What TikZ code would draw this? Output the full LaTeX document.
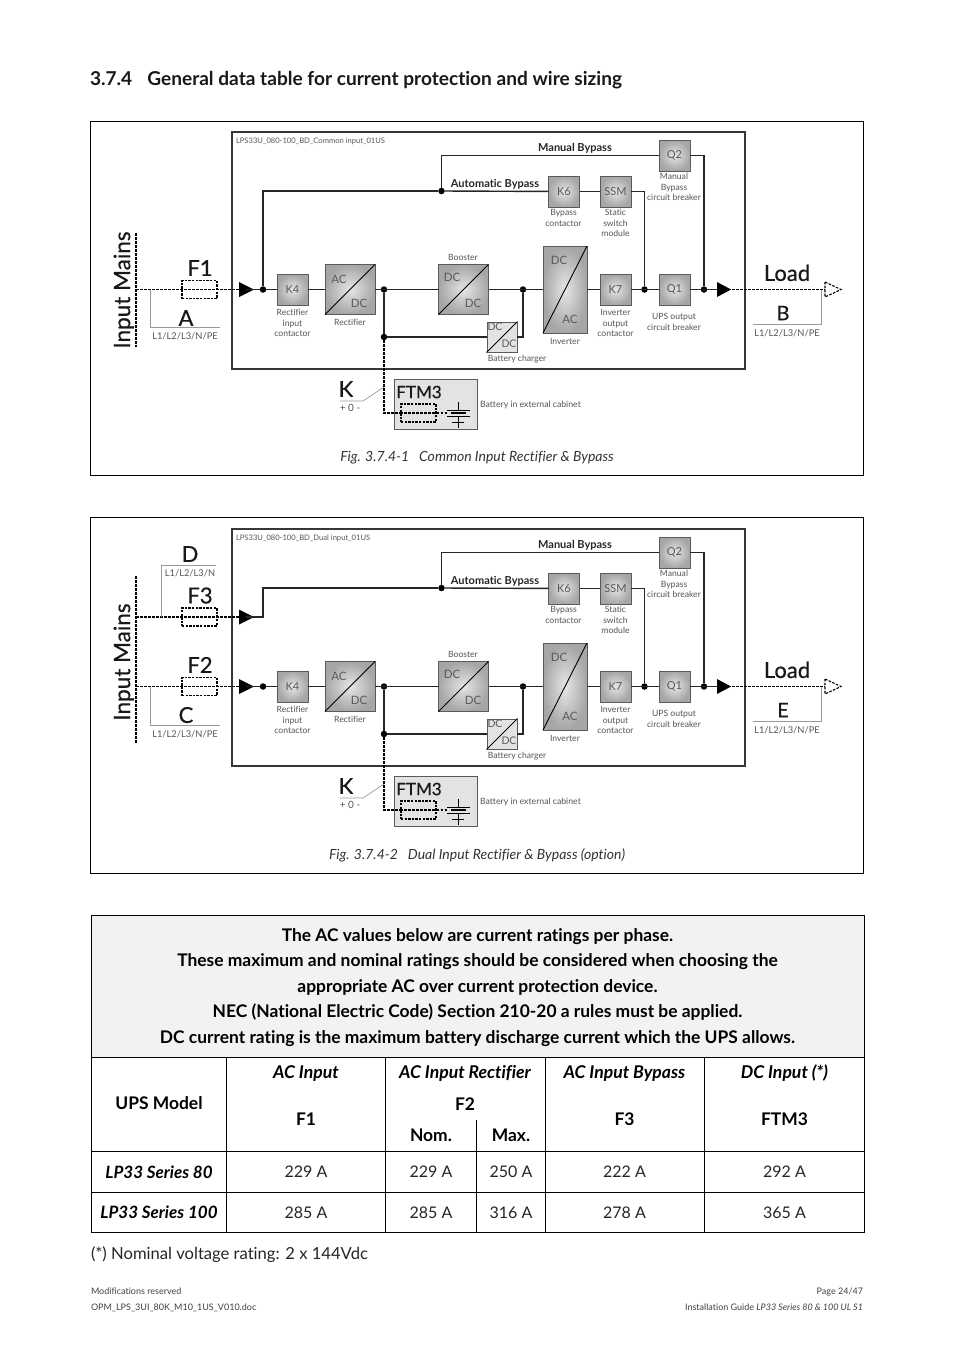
\documentclass[tikz,border=0pt]{standalone}
\usepackage{fontspec}
\setmainfont[Ligatures=NoCommon]{Lato}
\newfontfamily\medf[FakeBold=0.5,Ligatures=NoCommon]{Lato}
\usetikzlibrary{shapes.geometric}
\definecolor{labc}{HTML}{555555}
\definecolor{edgec}{HTML}{5A5A5A}
\newcommand{\fsz}[1]{\fontsize{#1}{#1}\selectfont}
\tikzset{
 txt/.style={inner sep=0,outer sep=0},
 fnt/.style={font=\fsz{#1},text height={0.72*#1},text depth=0},
 fntb/.style={font=\bfseries\fsz{#1},text height={0.72*#1},text depth=0},
 fnti/.style={font=\itshape\fsz{#1},text height={0.72*#1},text depth=0},
 fntbi/.style={font=\bfseries\itshape\fsz{#1},text height={0.72*#1},text depth=0},
 fntm/.style={font=\medf\fsz{#1},text height={0.72*#1},text depth=0},
 blk/.style={draw=edgec,line width=0.9,inner sep=0,outer sep=0,shade,inner color=gray!20,outer color=gray!70,text=black!65,font=\fsz{11}},
 sqblk/.style={blk,minimum width=31,minimum height=31},
 convblk/.style={blk,minimum width=50,minimum height=50},
 wire/.style={line width=1.4,black!85},
 dashw/.style={line width=1.8,black,dash pattern=on 2.6pt off 1.4pt},
 fusebox/.style={draw,line width=1.2,dash pattern=on 2.4pt off 1.2pt,inner sep=0,minimum width=35,minimum height=18},
 jdot/.style={circle,fill=black,inner sep=0,minimum size=6.5},
 smalltxt/.style={txt,text=labc,align=center,font=\fontsize{8.6}{10.4}\selectfont},
 lonetxt/.style={txt,text=labc,fnt=#1},
 dctxt/.style={txt,text=black!65,fnt=#1},
 leadw/.style={line width=0.7,gray!80},
 bigtxt/.style={txt,text=black!90,fntm=#1},
 celltxt/.style={txt,fnt=16,text=black!85},
 headtxt/.style={txt,fntb=17.4},
 theadtxt/.style={txt,fntbi=17.6},
 modeltxt/.style={txt,fntbi=17},
 foottxt/.style={txt,fnt=9,text=black!75},
 frameb/.style={line width=0.8,black},
 rulew/.style={line width=0.9,black},
}
% common part of both one-line diagrams
\newcommand{\upscore}[1]{%
 \draw[line width=1.5,edgec!60!black] (232,132) rectangle (745,369);
 \node[lonetxt=7.6,anchor=west] (codel) at (236,141) {#1};
 \node[sqblk] (K4) at (292.5,289.5) {K4};
 \node[convblk] (rect) at (350,289.5) {};
 \node[convblk] (boost) at (463.5,289.5) {};
 \node[blk,minimum width=44,minimum height=87] (inv) at (565,289.5) {};
 \node[sqblk] (K7) at (615.5,289.5) {K7};
 \node[sqblk] (Q1) at (674.5,289.5) {Q1};
 \node[sqblk] (Q2) at (674.5,155.5) {Q2};
 \node[sqblk] (K6) at (564,191.5) {K6};
 \node[sqblk] (SSM) at (615.5,191.5) {SSM};
 \node[draw=edgec,fill=black!11,line width=0.9,inner sep=0,minimum width=30,minimum height=30] (chg) at (502,337) {};
 \foreach \nn in {rect,boost,inv,chg}{\draw[line width=0.9,black] (\nn.south west) -- (\nn.north east);}
 \node[dctxt=11.5] (ra) at (339,279) {AC};
 \node[dctxt=11.5] (rd) at (359,303) {DC};
 \node[dctxt=11.5] (ba) at (452,277) {DC};
 \node[dctxt=11.5] (bd) at (473,303) {DC};
 \node[dctxt=11.5] (ia) at (559,260) {DC};
 \node[dctxt=11.5] (id) at (570,319) {AC};
 \node[dctxt=10.5] (ca) at (495,327) {DC};
 \node[dctxt=10.5] (cd) at (509,344) {DC};
 \node[jdot] (j1) at (263,289.5) {};
 \node[jdot] (j2) at (384,289.5) {};
 \node[jdot] (j3) at (384,337) {};
 \node[jdot] (j4) at (523,289.5) {};
 \node[jdot] (j5) at (644.5,289.5) {};
 \node[jdot] (j6) at (704,289.5) {};
 \node[jdot] (j7) at (441.5,191) {};
 \coordinate (arrowout) at (724,289.5);
 \draw[wire] (j1) -- (K4);
 \draw[wire] (K4) -- (rect);
 \draw[wire] (rect) -- (boost);
 \draw[wire] (boost) -- (inv);
 \draw[wire] (inv) -- (K7);
 \draw[wire] (K7) -- (Q1);
 \draw[wire] (Q1) -- (arrowout);
 \draw[wire] (j2) -- (j3);
 \draw[wire] (j3) -- (chg);
 \draw[wire] (chg.east) -| (j4);
 \draw[wire] (j7) |- (Q2);
 \draw[wire] (j7) -- (K6);
 \draw[wire] (K6) -- (SSM);
 \draw[wire] (SSM.east) -| (j5);
 \draw[wire] (Q2.east) -| (j6);
 \fill[black] (717,282) -- (731,289.5) -- (717,297) -- cycle;
 \node[txt,fntb=11,text=black!85] (mb) at (575,148) {Manual Bypass};
 \node[txt,fntb=11,text=black!85] (ab) at (495,184) {Automatic Bypass};
 \node[smalltxt] (l1) at (292.5,323) {Rectifier\\input\\contactor};
 \node[smalltxt] (l2) at (350,322) {Rectifier};
 \node[smalltxt] (l3) at (463,257) {Booster};
 \node[smalltxt] (l4) at (565,341) {Inverter};
 \node[smalltxt] (l5) at (517,359) {Battery charger};
 \node[smalltxt] (l6) at (615.5,323) {Inverter\\output\\contactor};
 \node[smalltxt] (l7) at (674,322) {UPS output\\circuit breaker};
 \node[smalltxt] (l8) at (563.5,218) {Bypass\\contactor};
 \node[smalltxt] (l9) at (615.5,223) {Static\\switch\\module};
 \node[smalltxt] (l10) at (674,187) {Manual\\Bypass\\circuit breaker};
 % load side
 \coordinate (loadend) at (825,289.5);
 \coordinate (tapB) at (821,289.5);
 \coordinate (tapB2) at (821,324);
 \coordinate (tapB3) at (753,324);
 \draw[dashw] (arrowout) -- (loadend);
 \draw[dashw,line width=1.1] (825,282) -- (841,289.5) -- (825,297) -- cycle;
 \draw[leadw] (tapB) -- (tapB2) -- (tapB3);
 \node[bigtxt=22] (load) at (787,273) {Load};
 \node[lonetxt=9.3] (lp) at (787,333) {L1/L2/L3/N/PE};
 % battery
 \node[draw=edgec,fill=black!11,line width=0.8,inner sep=0,minimum width=83,minimum height=50] (ftm) at (435.5,404) {};
 \node[bigtxt=17] (ftmt) at (419,392) {FTM3};
 \node[fusebox] (f3) at (418.5,413) {};
 \coordinate (kcorner) at (384,413);
 \draw[dashw] (j3) -- (kcorner) -- (f3.west);
 \draw[dashw] (f3.west) -- (f3.east);
 \draw[dashw] (f3.east) -- (447,413);
 \draw[line width=0.9] (458,402) -- (458,410) (447,410) -- (470,410) (447,416) -- (470,416) (458,416) -- (458,428) (452,422) -- (464,422);
 \draw[line width=1.6] (451,413) -- (466,413);
 \node[lonetxt=8.7,anchor=west] (bc) at (480,404) {Battery in external cabinet};
 \node[bigtxt=22] (kk) at (346,389) {K};
 \node[lonetxt=10] (zz) at (350,408) {+ 0 -};
 \coordinate (ka) at (340,401);
 \coordinate (kb) at (363,401);
 \coordinate (kc) at (384,387);
 \draw[leadw] (ka) -- (kb) -- (kc);
}
% one mains feed with its fuse, ending on the input arrow
\newcommand{\feed}[3]{%
 \node[fusebox] (#1) at (199.5,#2) {};
 \coordinate (#1s) at (136,#2);
 \coordinate (#1a) at (246,#2);
 \draw[dashw] (#1s) -- (#1a);
 \fill[black] (239,#2-7.5) -- (254,#2) -- (239,#2+7.5) -- cycle;
 \node[bigtxt=22] (#1t) at (200,#2-21.5) {#3};
}
\begin{document}
\begin{tikzpicture}[x=1pt,y=-1pt]
\useasboundingbox (0,0) rectangle (954,1350);
\fill[white] (0,0) rectangle (954,1350);
\node[txt,anchor=west,fntb=19.1,text=black!90] (title) at (90,78.5) {3.7.4\hspace{15pt}General data table for current protection and wire sizing};
% ---- figure 1
\draw[frameb] (90.5,121.5) rectangle (863.5,475.5);
\begin{scope}[name prefix=a-]
 \upscore{LPS33U\_080-100\_BD\_Common input\_01US}
 \feed{F1}{289.5}{F1}
 \draw[wire] (F1a) -- (j1);
 \draw[wire] (j1) |- (j7);
 \coordinate (ms) at (136,233);
 \coordinate (me) at (136,347);
 \draw[dashw] (ms) -- (me);
 \node[bigtxt=22.5,rotate=90] (im) at (122,290) {Input Mains};
 \node[bigtxt=22] (A) at (186,318) {A};
 \coordinate (t1) at (150,289.5);
 \coordinate (t2) at (150,327);
 \coordinate (t3) at (220,327);
 \draw[leadw] (t1) -- (t2) -- (t3);
 \node[lonetxt=9.3] (lA) at (185,336) {L1/L2/L3/N/PE};
 \node[bigtxt=20] (B) at (783,313) {B};
 \node[txt,fnti=14,text=black!80] (cap) at (477,456.5) {Fig. 3.7.4-1\hspace{10pt}Common Input Rectifier \& Bypass};
\end{scope}
% ---- figure 2
\draw[frameb] (90.5,517.5) rectangle (863.5,873.5);
\begin{scope}[shift={(0,397)},name prefix=b-]
 \upscore{LPS33U\_080-100\_BD\_Dual input\_01US}
 \feed{F2}{289.5}{F2}
 \feed{F3}{220}{F3}
 \draw[wire] (F2a) -- (j1);
 \coordinate (by) at (263,220);
 \draw[wire] (F3a) -- (by) |- (j7);
 \coordinate (ms) at (136,179);
 \coordinate (me) at (136,346);
 \draw[dashw] (ms) -- (me);
 \node[bigtxt=22.5,rotate=90] (im) at (122,265) {Input Mains};
 \node[bigtxt=22] (C) at (186,318) {C};
 \coordinate (t1) at (150,289.5);
 \coordinate (t2) at (150,328);
 \coordinate (t3) at (220,328);
 \draw[leadw] (t1) -- (t2) -- (t3);
 \node[lonetxt=9.3] (lC) at (185,337) {L1/L2/L3/N/PE};
 \node[bigtxt=22] (D) at (190,157) {D};
 \coordinate (u1) at (161,220);
 \coordinate (u2) at (161,168);
 \coordinate (u3) at (216,168);
 \draw[leadw] (u1) -- (u2) -- (u3);
 \node[lonetxt=9.3] (lD) at (190,176) {L1/L2/L3/N};
 \node[bigtxt=20] (E) at (783,313) {E};
 \node[txt,fnti=14,text=black!80] (cap) at (477,457) {Fig. 3.7.4-2\hspace{10pt}Dual Input Rectifier \& Bypass (option)};
\end{scope}
% ---- table
\fill[black!5] (91.5,915.5) rectangle (864.5,1057.5);
\draw[rulew] (91.5,915.5) rectangle (864.5,1232.5);
\draw[rulew] (91.5,1057.5) -- (864.5,1057.5);
\draw[rulew] (91.5,1151.5) -- (864.5,1151.5);
\draw[rulew] (91.5,1192.5) -- (864.5,1192.5);
\draw[rulew] (226.5,1057.5) -- (226.5,1232.5);
\draw[rulew] (385.5,1057.5) -- (385.5,1232.5);
\draw[rulew] (476.5,1120) -- (476.5,1232.5);
\draw[rulew] (545.5,1057.5) -- (545.5,1232.5);
\draw[rulew] (704.5,1057.5) -- (704.5,1232.5);
\node[headtxt] (n1) at (477.5,935.5) {The AC values below are current ratings per phase.};
\node[headtxt] (n2) at (477.5,960.5) {These maximum and nominal ratings should be considered when choosing the};
\node[headtxt] (n3) at (477.5,986) {appropriate AC over current protection device.};
\node[headtxt] (n4) at (477.5,1011.5) {NEC (National Electric Code) Section 210-20 a rules must be applied.};
\node[headtxt] (n5) at (477.5,1037) {DC current rating is the maximum battery discharge current which the UPS allows.};
\node[headtxt] (h0) at (159,1103.5) {UPS Model};
\node[theadtxt] (h1) at (306,1072.5) {AC Input};
\node[theadtxt] (h2) at (465,1072.5) {AC Input Rectifier};
\node[theadtxt] (h3) at (624.5,1072.5) {AC Input Bypass};
\node[theadtxt] (h4) at (784.5,1072.5) {DC Input (*)};
\node[headtxt] (f1) at (306,1119.5) {F1};
\node[headtxt] (f2) at (465,1104.5) {F2};
\node[headtxt] (f3) at (624.5,1119.5) {F3};
\node[headtxt] (f4) at (784.5,1119.5) {FTM3};
\node[headtxt] (nm) at (431,1135.5) {Nom.};
\node[headtxt] (mx) at (511,1135.5) {Max.};
\node[modeltxt] (m1) at (159,1172) {LP33 Series 80};
\node[modeltxt] (m2) at (159,1212.5) {LP33 Series 100};
\node[celltxt] (c11) at (306,1172) {229 A};
\node[celltxt] (c12) at (431,1172) {229 A};
\node[celltxt] (c13) at (511,1172) {250 A};
\node[celltxt] (c14) at (624.5,1172) {222 A};
\node[celltxt] (c15) at (784.5,1172) {292 A};
\node[celltxt] (c21) at (306,1212.5) {285 A};
\node[celltxt] (c22) at (431,1212.5) {285 A};
\node[celltxt] (c23) at (511,1212.5) {316 A};
\node[celltxt] (c24) at (624.5,1212.5) {278 A};
\node[celltxt] (c25) at (784.5,1212.5) {365 A};
\node[txt,fnt=16.6,text=black!85,anchor=west] (note) at (91,1253.5) {(*) Nominal voltage rating: 2 x 144Vdc};
% ---- footer
\node[foottxt,anchor=west] (ft1) at (91,1291) {Modifications reserved};
\node[foottxt,anchor=west] (ft2) at (91,1307) {OPM\_LPS\_3UI\_80K\_M10\_1US\_V010.doc};
\node[foottxt,anchor=east] (ft3) at (863,1291) {Page 24/47};
\node[foottxt,anchor=east] (ft4) at (863,1307) {Installation Guide \textit{LP33 Series 80 \& 100 UL S1}};
\end{tikzpicture}
\end{document}
